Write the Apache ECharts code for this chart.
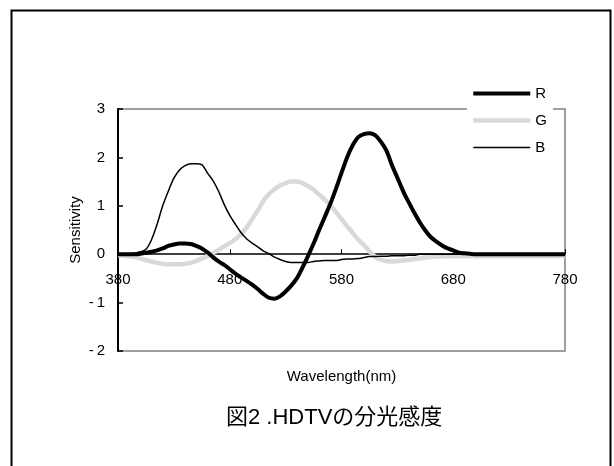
<!DOCTYPE html>
<html>
<head>
<meta charset="utf-8">
<script src="https://cdn.jsdelivr.net/npm/echarts@6/dist/echarts.min.js"></script>
<style>
html,body{margin:0;padding:0;background:#fff;}
#chart{width:614px;height:466px;}
</style>
</head>
<body>
<div id="chart"></div>
<script>
// Wavelength (nm)
var wavelengths = [380,385,390,395,400,405,410,415,420,425,430,435,440,445,450,455,460,465,470,475,
  480,485,490,495,500,505,510,515,520,525,530,535,540,545,550,555,560,565,570,575,
  580,585,590,595,600,605,610,615,620,625,630,635,640,645,650,655,660,665,670,675,
  680,685,690,695,700,720,740,760,780];
var rValues = [0,0,0,0,0.01,0.03,0.05,0.08,0.12,0.17,0.2,0.22,0.22,0.21,0.17,0.12,0.04,-0.06,-0.15,-0.22,
  -0.31,-0.4,-0.48,-0.55,-0.63,-0.72,-0.82,-0.9,-0.92,-0.87,-0.77,-0.65,-0.5,-0.28,-0.04,0.22,0.5,0.77,1.04,1.35,
  1.68,2.0,2.25,2.42,2.48,2.5,2.46,2.33,2.15,1.85,1.58,1.31,1.08,0.86,0.66,0.49,0.35,0.26,0.18,0.12,
  0.08,0.03,0.02,0.01,0,0,0,0,0];
var gValues = [-0.02,-0.03,-0.05,-0.06,-0.09,-0.12,-0.15,-0.18,-0.2,-0.21,-0.21,-0.21,-0.2,-0.18,-0.14,-0.09,-0.04,0.02,0.09,0.16,
  0.23,0.31,0.41,0.55,0.72,0.9,1.1,1.24,1.34,1.42,1.47,1.5,1.5,1.47,1.41,1.33,1.23,1.13,1.01,0.87,
  0.73,0.58,0.44,0.3,0.19,0.06,-0.05,-0.11,-0.14,-0.15,-0.14,-0.13,-0.12,-0.1,-0.09,-0.07,-0.06,-0.05,-0.04,-0.04,
  -0.04,-0.04,-0.04,-0.04,-0.04,-0.04,-0.04,-0.04,-0.04];
var bValues = [0,0,0.01,0.02,0.05,0.1,0.3,0.62,1.0,1.3,1.57,1.74,1.83,1.87,1.87,1.85,1.68,1.52,1.3,1.03,
  0.8,0.62,0.45,0.32,0.23,0.15,0.07,0.01,-0.06,-0.11,-0.15,-0.17,-0.17,-0.17,-0.17,-0.15,-0.14,-0.13,-0.13,-0.13,
  -0.11,-0.1,-0.1,-0.09,-0.07,-0.05,-0.05,-0.04,-0.04,-0.03,-0.03,-0.03,-0.02,-0.02,0,0,0,0,0,0,
  0,0,0,0,0,0,0,0,0];
var seriesNames = ['R','G','B'];
var xTicks = [380,480,580,680,780];
var yTicks = [-2,-1,0,1,2,3];
var titleText = '図2 .HDTVの分光感度';
var xName = 'Wavelength(nm)';
var yName = 'Sensitivity';

function pairs(vals){ return wavelengths.map(function(w,i){ return [w, vals[i]]; }); }

var font = '"Liberation Sans", Arial, "Noto Sans CJK JP", sans-serif';
var gridTop = 109, gridHeight = 242;
var yMin = -2, yMax = 3;
// shift the x axis (line, ticks, labels, name) from the grid bottom up to the value-0 line
var zeroOffset = -gridHeight * (0 - yMin) / (yMax - yMin);
var lineColors = {R: '#000', G: '#d9d9d9', B: '#000'};
var lineWidths = {R: 4, G: 4.5, B: 1.5};

var chart = echarts.init(document.getElementById('chart'), null, {renderer:'canvas'});
chart.setOption({
  backgroundColor: '#fff',
  animation: false,
  textStyle: {fontFamily: font, color: '#000'},
  title: {
    text: titleText,
    left: 226, top: 407,
    padding: 0,
    textStyle: {fontFamily: font, fontSize: 22, fontWeight: 'normal', color: '#000'}
  },
  legend: {
    orient: 'vertical',
    left: 467, top: 81,
    padding: [5, 6, 5, 4],
    itemWidth: 57, itemHeight: 14, itemGap: 12,
    backgroundColor: '#fff',
    selectedMode: false,
    itemStyle: {opacity: 0},
    data: seriesNames.map(function(n){
      return {name: n, lineStyle: {color: lineColors[n], width: lineWidths[n]}, itemStyle: {opacity: 0}};
    }),
    textStyle: {fontFamily: font, fontSize: 15, color: '#000'}
  },
  grid: {
    left: 118, top: gridTop, width: 447, height: gridHeight,
    containLabel: false, outerBoundsMode: 'none',
    show: true, borderColor: '#808080', borderWidth: 1.5, backgroundColor: 'transparent'
  },
  xAxis: {
    type: 'value', min: 380, max: 780, interval: 100,
    position: 'bottom', offset: zeroOffset,
    name: xName, nameLocation: 'middle', nameGap: 115, nameMoveOverlap: false,
    nameTextStyle: {fontFamily: font, fontSize: 15, color: '#000'},
    axisLine: {show: true, onZero: false, lineStyle: {color: '#000', width: 1.5}},
    axisTick: {show: true, inside: true, length: 5, lineStyle: {color: '#000', width: 1}},
    axisLabel: {fontFamily: font, fontSize: 15, color: '#000', margin: 18,
      formatter: function(v){ return xTicks.indexOf(v) >= 0 ? String(v) : ''; }},
    splitLine: {show: false}
  },
  yAxis: {
    type: 'value', min: yMin, max: yMax, interval: 1,
    name: yName, nameLocation: 'middle', nameGap: 35, nameRotate: 90, nameMoveOverlap: false,
    nameTextStyle: {fontFamily: font, fontSize: 15, color: '#000'},
    axisLine: {show: true, onZero: false, lineStyle: {color: '#000', width: 2}},
    axisTick: {show: true, inside: true, length: 5, lineStyle: {color: '#000', width: 1.5}},
    axisLabel: {fontFamily: font, fontSize: 15, color: '#000', margin: 13,
      formatter: function(v){ return yTicks.indexOf(v) >= 0 ? (v < 0 ? '-\u2009' + Math.abs(v) : String(v)) : ''; }},
    splitLine: {show: false}
  },
  graphic: [{
    type: 'rect', z: -10, silent: true,
    shape: {x: 11.5, y: 10.5, width: 599, height: 470},
    style: {fill: 'none', stroke: '#000', lineWidth: 2}
  }],
  series: [
    {name: 'G', type: 'line', data: pairs(gValues), smooth: 0.3, symbol: 'none', z: 2,
      lineStyle: {color: lineColors.G, width: lineWidths.G}, itemStyle: {color: lineColors.G}},
    {name: 'B', type: 'line', data: pairs(bValues), smooth: 0.3, symbol: 'none', z: 3,
      lineStyle: {color: lineColors.B, width: lineWidths.B}, itemStyle: {color: lineColors.B}},
    {name: 'R', type: 'line', data: pairs(rValues), smooth: 0.3, symbol: 'none', z: 4,
      lineStyle: {color: lineColors.R, width: lineWidths.R}, itemStyle: {color: lineColors.R}}
  ]
});
</script>
</body>
</html>
